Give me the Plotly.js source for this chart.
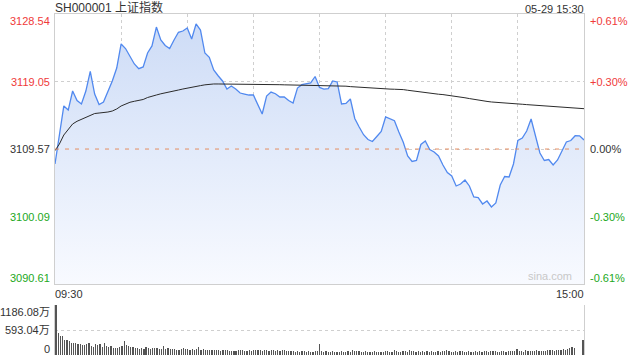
<!DOCTYPE html>
<html><head><meta charset="utf-8">
<script src="https://cdn.plot.ly/plotly-3.0.1.min.js"></script>
<style>html,body{margin:0;padding:0;background:#fff;}#chart{width:640px;height:360px;}</style>
</head><body><div id="chart"></div>
<script>
// ---- data ----
const TITLE = "SH000001 上证指数";
const STAMP = "05-29 15:30";
const PREV_CLOSE = 3109.57;
const LEFT_TICKS = [3128.54, 3119.05, 3109.57, 3100.09, 3090.61];
const RIGHT_TICKS = ["+0.61%", "+0.30%", "0.00%", "-0.30%", "-0.61%"];
const TIME_LABELS = ["09:30", "15:00"];
const VOL_TICKS = [1186.08, 593.04, 0];
const VOL_TICK_TEXT = ["1186.08万", "593.04万", "0"];
const PRICE_STEP_MIN = 2; // one price sample every 2 trading minutes
// price, sampled every 2 trading minutes (09:30 .. 15:00)
const price = [
  3107.47, 3111.40, 3115.62, 3115.05, 3117.72, 3116.39, 3115.90, 3117.72, 3120.49, 3117.30,
  3115.83, 3116.18, 3117.58, 3119.13, 3120.95, 3124.33, 3123.69, 3122.64, 3121.52, 3120.86,
  3121.10, 3123.06, 3124.05, 3126.71, 3124.89, 3124.12, 3123.69, 3124.89, 3125.97, 3126.15,
  3126.57, 3125.03, 3127.14, 3126.29, 3123.06, 3122.46, 3120.67, 3119.87, 3119.13, 3118.00,
  3118.43, 3118.00, 3117.44, 3117.30, 3117.16, 3117.16, 3115.83, 3114.49, 3117.02, 3117.58,
  3117.34, 3116.88, 3116.88, 3116.39, 3116.04, 3118.14, 3118.61, 3118.68, 3118.85, 3119.76,
  3118.22, 3118.00, 3118.07, 3119.13, 3118.99, 3115.90, 3115.97, 3116.60, 3113.86, 3112.67,
  3111.58, 3110.91, 3110.63, 3111.33, 3112.03, 3114.07, 3113.79, 3113.55, 3111.96, 3110.52,
  3108.59, 3107.82, 3107.96, 3110.21, 3110.70, 3109.51, 3109.15, 3108.59, 3107.33, 3106.27,
  3105.78, 3104.38, 3104.66, 3105.22, 3104.38, 3102.83, 3102.76, 3101.85, 3102.27, 3101.43,
  3101.99, 3104.52, 3105.71, 3105.64, 3107.47, 3110.77, 3111.12, 3112.10, 3113.79, 3111.26,
  3109.01, 3107.96, 3108.10, 3107.33, 3108.03, 3109.30, 3110.56, 3110.77, 3111.44, 3111.43,
  3110.84
];
// average price line, same sampling
const avgPrice = [
  3109.34, 3110.28, 3111.54, 3112.31, 3113.09, 3113.47, 3113.76, 3114.00, 3114.27, 3114.56,
  3114.63, 3114.68, 3114.77, 3114.91, 3115.20, 3115.62, 3115.90, 3116.14, 3116.28, 3116.39,
  3116.53, 3116.81, 3117.02, 3117.16, 3117.33, 3117.44, 3117.58, 3117.70, 3117.86, 3118.00,
  3118.14, 3118.29, 3118.38, 3118.48, 3118.59, 3118.68, 3118.71, 3118.71, 3118.71, 3118.71,
  3118.71, 3118.71, 3118.71, 3118.71, 3118.69, 3118.68, 3118.67, 3118.65, 3118.64, 3118.64,
  3118.62, 3118.61, 3118.59, 3118.58, 3118.57, 3118.57, 3118.55, 3118.55, 3118.54, 3118.54,
  3118.52, 3118.52, 3118.51, 3118.50, 3118.48, 3118.45, 3118.40, 3118.34, 3118.29, 3118.24,
  3118.19, 3118.14, 3118.10, 3118.06, 3118.03, 3118.00, 3117.99, 3117.97, 3117.96, 3117.92,
  3117.83, 3117.74, 3117.65, 3117.57, 3117.48, 3117.41, 3117.34, 3117.27, 3117.22, 3117.15,
  3117.08, 3116.98, 3116.88, 3116.77, 3116.66, 3116.54, 3116.44, 3116.35, 3116.26, 3116.18,
  3116.12, 3116.07, 3116.02, 3115.98, 3115.94, 3115.90, 3115.86, 3115.81, 3115.77, 3115.71,
  3115.66, 3115.62, 3115.57, 3115.52, 3115.46, 3115.42, 3115.38, 3115.33, 3115.31, 3115.26,
  3115.24
];
// volume per trading minute, in 万
const volume = [
  1186.08, 522, 455, 450, 360, 345, 330, 295, 290, 288,
  262, 265, 240, 245, 262, 280, 215, 190, 262, 238,
  270, 195, 285, 215, 190, 210, 170, 165, 172, 195,
  205, 338, 240, 215, 190, 200, 172, 160, 150, 168,
  150, 180, 155, 145, 168, 175, 160, 140, 145, 205,
  150, 175, 140, 135, 150, 130, 125, 150, 165, 135,
  150, 130, 140, 128, 145, 190, 122, 150, 130, 118,
  125, 120, 130, 115, 120, 105, 118, 110, 112, 100,
  98, 104, 100, 108, 112, 120, 105, 95, 118, 100,
  108, 122, 110, 120, 100, 112, 108, 95, 118, 130,
  105, 112, 98, 115, 108, 95, 88, 95, 102, 80,
  85, 78, 88, 95, 82, 90, 80, 78, 85, 92,
  260, 85, 70, 90, 75, 72, 95, 68, 80, 72,
  88, 70, 82, 95, 78, 110, 100, 85, 92, 70,
  75, 88, 72, 68, 80, 92, 70, 78, 65, 72,
  85, 100, 78, 70, 115, 90, 82, 75, 95, 88,
  78, 110, 95, 85, 72, 100, 82, 90, 70, 85,
  78, 95, 80, 70, 88, 75, 105, 92, 118, 85,
  80, 72, 90, 78, 85, 95, 80, 75, 88, 72,
  82, 90, 78, 85, 80, 95, 88, 75, 92, 100,
  85, 78, 82, 95, 88, 80, 102, 90, 85, 95,
  150, 95, 88, 80, 110, 85, 95, 100, 88, 110,
  92, 105, 100, 95, 125, 110, 115, 105, 120, 118,
  130, 140, 125, 150, 165, 180, 175, 5, 5, 5,
  356
];

// ---- build ----
const RED = "#f03a3a", GREEN = "#22a822", DARK = "#333333", GRID = "#cfcfcf";
const FONT = 'Arial, "Liberation Sans", "Noto Sans CJK SC", sans-serif';
const px = price.map((_, i) => i * PRICE_STEP_MIN);
const vx = volume.map((_, i) => i);
const yMin = LEFT_TICKS[LEFT_TICKS.length - 1], yMax = LEFT_TICKS[0];
const tickColor = (i) => i < 2 ? RED : (i === 2 ? DARK : GREEN);

const traces = [
  { x: px, y: price, type: "scatter", mode: "lines", xaxis: "x", yaxis: "y",
    line: { color: "#5189ef", width: 1.3 }, fill: "tozeroy",
    fillgradient: { type: "vertical", start: yMin, stop: yMax,
      colorscale: [[0, "rgba(248,250,255,1)"], [1, "rgba(204,219,246,1)"]] },
    hoverinfo: "skip" },
  { x: px, y: avgPrice, type: "scatter", mode: "lines", xaxis: "x", yaxis: "y",
    line: { color: "#2b2b2b", width: 1 }, hoverinfo: "skip" },
  { x: vx, y: volume, type: "bar", xaxis: "x2", yaxis: "y2", width: 0.55,
    marker: { color: "#555555", line: { width: 0 } }, hoverinfo: "skip" }
];

const shiftFor = (i) => i === 0 ? -6.5 : (i === LEFT_TICKS.length - 1 ? 6 : 0);
const ann = [];
LEFT_TICKS.forEach((v, i) => {
  ann.push({ xref: "paper", yref: "y", x: 0, y: v, xanchor: "right", yanchor: "middle",
    xshift: -3, yshift: shiftFor(i), text: v.toFixed(2), showarrow: false,
    font: { size: 11, color: tickColor(i), family: FONT } });
  ann.push({ xref: "paper", yref: "y", x: 1, y: v, xanchor: "left", yanchor: "middle",
    xshift: 4, yshift: shiftFor(i), text: RIGHT_TICKS[i], showarrow: false,
    font: { size: 11, color: tickColor(i), family: FONT } });
});
VOL_TICKS.forEach((v, i) => {
  ann.push({ xref: "paper", yref: "y2", x: 0, y: v, xanchor: "right", yanchor: "middle",
    xshift: -3, yshift: i === 0 ? -7 : (i === 2 ? 6 : 0), text: VOL_TICK_TEXT[i], showarrow: false,
    font: { size: 11, color: DARK, family: FONT } });
});
ann.push({ xref: "paper", yref: "y", x: 0, y: yMin, xanchor: "left", yanchor: "middle",
  yshift: -10, xshift: -2, text: TIME_LABELS[0], showarrow: false, font: { size: 11, color: DARK, family: FONT } });
ann.push({ xref: "paper", yref: "y", x: 1, y: yMin, xanchor: "right", yanchor: "middle",
  yshift: -10, xshift: 2, text: TIME_LABELS[1], showarrow: false, font: { size: 11, color: DARK, family: FONT } });
ann.push({ xref: "paper", yref: "paper", x: 0, y: 1, xanchor: "left", yanchor: "bottom",
  yshift: -3, xshift: -2, text: TITLE, showarrow: false, font: { size: 12, color: DARK, family: FONT } });
ann.push({ xref: "paper", yref: "paper", x: 1, y: 1, xanchor: "right", yanchor: "bottom",
  yshift: -3, xshift: 2, text: STAMP, showarrow: false, font: { size: 11, color: DARK, family: FONT } });
ann.push({ xref: "paper", yref: "y", x: 1, y: yMin, xanchor: "right", yanchor: "bottom",
  yshift: 0, xshift: -10, text: "sina.com", showarrow: false, font: { size: 11, color: "#c8c8c8", family: FONT } });

const layout = {
  width: 640, height: 360, margin: { l: 55, r: 56, t: 14, b: 5 },
  paper_bgcolor: "#fff", plot_bgcolor: "rgba(0,0,0,0)", showlegend: false,
  font: { family: FONT, size: 11, color: DARK },
  xaxis: { domain: [0, 1], range: [0, 240], tickvals: [30, 60, 90, 120, 150, 180, 210],
    showticklabels: false, ticks: "", showgrid: true, gridcolor: GRID, griddash: "dot", gridwidth: 1,
    zeroline: false, showline: true, mirror: true, linecolor: GRID, linewidth: 1, anchor: "y" },
  yaxis: { domain: [0.2082, 1], range: [yMin, yMax], tickvals: LEFT_TICKS.slice(1, 4),
    showticklabels: false, ticks: "", showgrid: true, gridcolor: GRID, griddash: "dot", gridwidth: 1,
    zeroline: false, showline: true, mirror: true, linecolor: GRID, linewidth: 1, anchor: "x" },
  xaxis2: { domain: [0, 1], range: [-0.5, 240.5], showticklabels: false, ticks: "", showgrid: false,
    zeroline: false, showline: false, anchor: "y2" },
  yaxis2: { domain: [0, 0.1466], range: [0, VOL_TICKS[0]], tickvals: VOL_TICKS.slice(0, 2),
    showticklabels: false, ticks: "", showgrid: true, gridcolor: GRID, griddash: "dot", gridwidth: 1,
    zeroline: false, showline: true, mirror: true, linecolor: GRID, linewidth: 1, anchor: "x2" },
  shapes: [
    { type: "line", xref: "paper", yref: "y", x0: 0, x1: 1, y0: PREV_CLOSE, y1: PREV_CLOSE,
      line: { color: "#e58e62", width: 1, dash: "4px,6px" }, layer: "above" }
  ],
  annotations: ann,
  bargap: 0
};
Plotly.newPlot("chart", traces, layout, { staticPlot: true, displayModeBar: false });
</script></body></html>
